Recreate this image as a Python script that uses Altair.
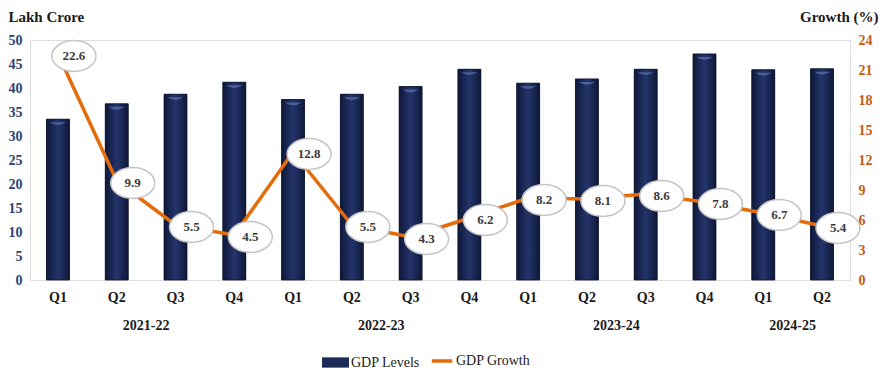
import altair as alt
import pandas as pd

# ---- data ----
years = ["2021-22"] * 4 + ["2022-23"] * 4 + ["2023-24"] * 4 + ["2024-25"] * 2
quarters = ["Q1", "Q2", "Q3", "Q4"] * 3 + ["Q1", "Q2"]
gdp_levels = [33.5, 36.7, 38.7, 41.2, 37.6, 38.7, 40.3, 43.9, 41.0, 41.9, 43.9, 47.1, 43.8, 44.0]
gdp_growth = [22.6, 9.9, 5.5, 4.5, 12.8, 5.5, 4.3, 6.2, 8.2, 8.1, 8.6, 7.8, 6.7, 5.4]

periods = [f"{y} {q}" for y, q in zip(years, quarters)]
df = pd.DataFrame({
    "period": periods,
    "gdp": gdp_levels,
    "growth": gdp_growth,
    "s1": "GDP Levels",
    "s2": "GDP Growth",
})

# year label anchors: middle quarter of each fiscal year
anchors = []
for y in dict.fromkeys(years):
    ps = [p for p, yy in zip(periods, years) if yy == y]
    anchors.append(ps[len(ps) // 2])
anchor_list = ",".join(f"'{a}'" for a in anchors)

FONT = "'Liberation Serif', serif"
W, H = 820, 240
P_IN, P_OUT = 0.61, 0.281
step = W / (len(periods) - P_IN + 2 * P_OUT)

xscale = alt.Scale(domain=periods, paddingInner=P_IN, paddingOuter=P_OUT)

q_axis = alt.Axis(orient="bottom", title=None, labelExpr="split(datum.value, ' ')[1]",
                  labelAngle=0, ticks=False, domain=False, grid=False, labelPadding=10,
                  labelFont=FONT, labelFontSize=14, labelFontWeight="bold",
                  labelColor="#1a1a1a", labelOverlap=False)
y_axis_years = alt.Axis(orient="bottom", title=None,
                        labelExpr=f"indexof([{anchor_list}], datum.value) >= 0 ? split(datum.value, ' ')[0] : ''",
                        labelAngle=0, ticks=False, domain=False, grid=False, labelPadding=38,
                        labelOffset=-step / 2, labelFont=FONT, labelFontSize=14,
                        labelFontWeight="bold", labelColor="#1a1a1a", labelOverlap=False)

left_axis = alt.Axis(title="Lakh Crore", titleAngle=0, titleAlign="left", titleBaseline="top",
                     titleX=-22, titleY=-31, titleFont=FONT, titleFontSize=15,
                     titleFontWeight="bold", titleColor="#1a1a1a",
                     values=list(range(0, 51, 5)), labelFont=FONT, labelFontSize=14,
                     labelFontWeight="bold", labelColor="#2c4272", ticks=False,
                     domain=False, grid=False, labelPadding=8)
right_axis = alt.Axis(orient="right", title="Growth (%)", titleAngle=0, titleAlign="right",
                      titleBaseline="top", titleX=28, titleY=-31, titleFont=FONT,
                      titleFontSize=15, titleFontWeight="bold", titleColor="#1a1a1a",
                      values=list(range(0, 25, 3)), labelFont=FONT, labelFontSize=14,
                      labelFontWeight="bold", labelColor="#c55a11", ticks=False,
                      domain=False, grid=False, labelPadding=8)

xq = alt.X("period:N", sort=periods, scale=xscale, axis=q_axis)
xy = alt.X("period:N", sort=periods, scale=xscale, axis=y_axis_years)
yl = alt.Y("gdp:Q", scale=alt.Scale(domain=[0, 50], nice=False), axis=left_axis)
yr = alt.Y("growth:Q", scale=alt.Scale(domain=[0, 24], nice=False), axis=right_axis)

base = alt.Chart(df)

bars = base.mark_bar().encode(
    x=xq, y=yl,
    fill=alt.Fill("s1:N", scale=alt.Scale(domain=["GDP Levels"], range=["#1b2a57"]),
                  legend=alt.Legend(orient="none", legendX=292, legendY=309, title=None,
                                    symbolType="M-1,-0.38H1V0.38H-1Z", symbolSize=729,
                                    symbolStrokeWidth=0, labelFont=FONT, labelFontSize=14,
                                    labelColor="#222222", labelOffset=2)),
)
bars_grad = base.mark_bar(
    color=alt.LinearGradient(
        gradient="linear", x1=0, x2=1, y1=0, y2=0,
        stops=[alt.GradientStop(color="#0e1838", offset=0),
               alt.GradientStop(color="#24356c", offset=0.5),
               alt.GradientStop(color="#0e1838", offset=1)]),
    stroke="#0a1230", strokeWidth=0.8,
).encode(x=xq, y=yl)
caps = base.mark_point(shape="M-1,0 Q0,0.7 1,0 Z", size=260, filled=True,
                       color="#5467a0", opacity=0.85, yOffset=3).encode(x=xq, y=yl)

g1 = alt.layer(bars, bars_grad, caps)

line = base.mark_line(strokeWidth=3.5, strokeJoin="round").encode(
    x=xy, y=yr,
    stroke=alt.Stroke("s2:N", scale=alt.Scale(domain=["GDP Growth"], range=["#e46c0a"]),
                      legend=alt.Legend(orient="none", legendX=400, legendY=309, title=None,
                                        symbolType="stroke", symbolSize=420,
                                        symbolStrokeWidth=3.5, labelFont=FONT,
                                        labelFontSize=14, labelColor="#222222",
                                        labelOffset=2)),
)
ellipses = base.mark_point(shape="M-1,0 A1,0.7 0 1,1 1,0 A1,0.7 0 1,1 -1,0 Z", size=1936,
                           filled=True, fill="white", stroke="#c4c4c4", strokeWidth=1.5,
                           opacity=1, xOffset=16, yOffset=2).encode(x=xy, y=yr)
labels = base.mark_text(font=FONT, fontSize=13, fontWeight="bold", color="#3a3a3a",
                        dx=16, dy=2).encode(x=xy, y=yr, text=alt.Text("growth:Q", format=".1f"))

g2 = alt.layer(line, ellipses, labels)

chart = alt.layer(g1, g2).resolve_scale(
    y="independent", x="shared", fill="independent", stroke="independent"
).resolve_axis(x="independent", y="independent").properties(
    width=W, height=H,
    padding={"left": 22, "top": 32, "right": 29, "bottom": 92},
    autosize=alt.AutoSizeParams(type="none"),
).configure_view(stroke=None).configure(background="white")

chart.save("out.html", embed_options={"renderer": "svg", "actions": False})
